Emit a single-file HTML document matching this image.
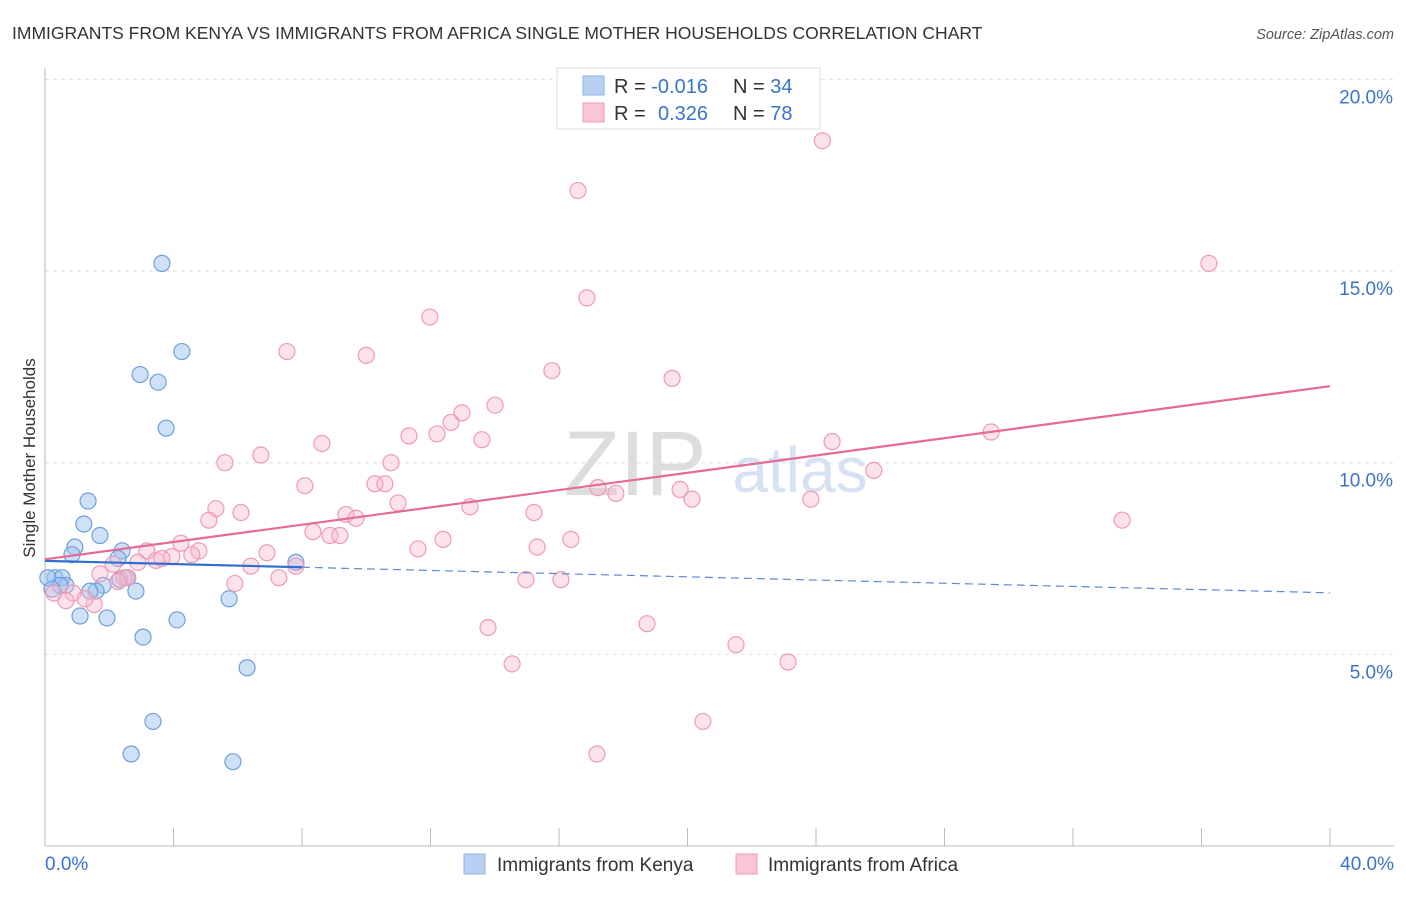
<!DOCTYPE html>
<html><head><meta charset="utf-8">
<style>
body{margin:0;background:#fff;font-family:"Liberation Sans",sans-serif;}
svg text{font-family:"Liberation Sans",sans-serif;}
</style></head>
<body>
<svg width="1406" height="892" viewBox="0 0 1406 892">
<text x="12" y="39" font-size="17.5" fill="#333">IMMIGRANTS FROM KENYA VS IMMIGRANTS FROM AFRICA SINGLE MOTHER HOUSEHOLDS CORRELATION CHART</text>
<text x="1394" y="39" font-size="14.5" fill="#555" font-style="italic" text-anchor="end">Source: ZipAtlas.com</text>
<g id="grid"></g>
<text x="635" y="495" font-size="92" fill="#ddd" font-family="Liberation Serif" text-anchor="middle">ZIP</text>
<text x="800" y="492" font-size="64" fill="#d6e2f3" text-anchor="middle">atlas</text>
<g id="pts"></g>
<g id="lines"></g>
<text x="35" y="458" font-size="17" fill="#333" text-anchor="middle" transform="rotate(-90 35 458)">Single Mother Households</text>
<g>
<rect x="557" y="68" width="263" height="61" fill="#fff" stroke="#ddd"/>
<rect x="583" y="76" width="21" height="19" fill="#b8d1f3" stroke="#8fb3e6"/>
<rect x="583" y="103" width="21" height="19" fill="#fac5d4" stroke="#f19ab4"/>
<text x="614" y="93" font-size="20" fill="#333">R = <tspan fill="#3a74c9">-0.016</tspan></text>
<text x="733" y="93" font-size="20" fill="#333">N = <tspan fill="#3a74c9">34</tspan></text>
<text x="614" y="120" font-size="20" fill="#333">R = <tspan fill="#3a74c9" x="658">0.326</tspan></text>
<text x="733" y="120" font-size="20" fill="#333">N = <tspan fill="#3a74c9">78</tspan></text>
</g>
<g>
<rect x="464" y="854" width="21" height="20" fill="#b8d1f3" stroke="#8fb3e6"/>
<text x="497" y="871" font-size="19" fill="#333">Immigrants from Kenya</text>
<rect x="736" y="854" width="21" height="20" fill="#fac5d4" stroke="#f19ab4"/>
<text x="768" y="871" font-size="19" fill="#333">Immigrants from Africa</text>
</g>
</svg>
<script>
const yTicks=[5,10,15,20];
const xTickLabels=["0.0%","40.0%"];
const kenyaX=[3.64,4.26,2.96,3.52,3.77,1.34,1.21,1.71,0.93,0.84,2.40,2.27,7.81,0.31,0.53,0.09,0.65,0.47,1.81,2.55,1.59,0.22,2.83,1.40,5.73,1.09,1.93,4.11,3.05,6.29,3.36,2.68,5.85,2.33];
const kenyaY=[15.2,12.9,12.3,12.1,10.9,9.0,8.4,8.1,7.8,7.6,7.7,7.5,7.4,7.0,7.0,7.0,6.8,6.8,6.8,7.0,6.65,6.7,6.65,6.65,6.45,6.0,5.95,5.9,5.45,4.65,3.25,2.4,2.2,6.95];
const africaX=[24.2,16.59,16.87,36.23,11.98,7.53,10.0,15.78,19.52,14.01,12.98,12.64,12.2,11.33,13.6,8.62,24.5,29.45,6.72,5.6,10.77,25.8,8.09,10.27,10.58,17.21,17.77,19.77,20.14,23.84,10.99,5.32,6.1,13.23,15.22,9.37,9.68,5.1,8.34,8.87,9.18,33.53,12.39,16.37,15.32,4.23,3.17,4.79,6.91,11.61,4.57,3.95,3.46,2.89,3.64,2.12,6.41,7.81,1.71,2.58,2.46,7.28,2.27,5.91,14.97,16.06,0.87,0.28,0.65,1.53,1.25,13.79,18.74,21.51,23.13,14.54,20.48,17.18];
const africaY=[18.4,17.1,14.3,15.2,13.8,12.9,12.8,12.4,12.2,11.5,11.3,11.05,10.75,10.7,10.6,10.5,10.55,10.8,10.2,10.0,10.0,9.8,9.4,9.45,9.45,9.35,9.2,9.3,9.05,9.05,8.95,8.8,8.7,8.85,8.7,8.65,8.55,8.5,8.2,8.1,8.1,8.5,8.0,8.0,7.8,7.9,7.7,7.7,7.65,7.75,7.6,7.55,7.45,7.4,7.5,7.35,7.3,7.3,7.1,7.0,7.0,7.0,6.9,6.85,6.95,6.95,6.6,6.6,6.4,6.3,6.45,5.7,5.8,5.25,4.8,4.75,3.25,2.4];
const NS="http://www.w3.org/2000/svg";
const X=v=>45+v*32.125, Y=v=>846-v*38.33;
function mk(t,a,p){const e=document.createElementNS(NS,t);for(const k in a)e.setAttribute(k,a[k]);p.appendChild(e);return e;}
const g=document.getElementById('grid');
for(const t of yTicks){
 const l=mk('line',{x1:45,x2:1394,y1:Y(t),y2:Y(t),stroke:'#ddd','stroke-dasharray':'4 4'},g);
 
 
 const tx=mk('text',{x:1393,y:Y(t)+24,'font-size':19,fill:'#3a74c9','text-anchor':'end'},g);
 tx.textContent=t.toFixed(1)+'%';
 
 
}
const ax=mk('line',{x1:45,x2:45,y1:68,y2:846,stroke:'#bbb'},g);


const bx=mk('line',{x1:45,x2:1394,y1:846,y2:846,stroke:'#bbb'},g);


for(let i=0;i<=10;i++){
 const tk=mk('line',{x1:X(i*4),x2:X(i*4),y1:828,y2:846,stroke:'#bbb'},g);
 
 
}
[[0,'start',45],[40,'end',1394]].forEach((d,i)=>{
 const tx=mk('text',{x:d[2],y:870,'font-size':19,fill:'#3a74c9','text-anchor':d[1]},g);
 tx.textContent=xTickLabels[i];
 
 
});
const p=document.getElementById('pts');
kenyaX.forEach((x,i)=>{
 const c=mk('circle',{cx:X(x),cy:Y(kenyaY[i]),r:8,fill:'rgba(160,195,240,0.5)',stroke:'#6f9fdc','stroke-width':1.2},p);
 
 
});
africaX.forEach((x,i)=>{
 const c=mk('circle',{cx:X(x),cy:Y(africaY[i]),r:8,fill:'rgba(248,185,205,0.4)',stroke:'#ef9ab5','stroke-width':1.2},p);
 
 
});
const L=document.getElementById('lines');
function fit(xs,ys){const n=xs.length,mx=xs.reduce((a,b)=>a+b)/n,my=ys.reduce((a,b)=>a+b)/n;let sxy=0,sxx=0;for(let i=0;i<n;i++){sxy+=(xs[i]-mx)*(ys[i]-my);sxx+=(xs[i]-mx)**2;}const b=sxy/sxx;return [my-b*mx,b];}
const [ka,kb]=fit(kenyaX,kenyaY);
const l1=mk('line',{x1:X(0),y1:Y(ka),x2:X(8),y2:Y(ka+kb*8),stroke:'#2f6fd0','stroke-width':2.2},L);


const l2=mk('line',{x1:X(8),y1:Y(ka+kb*8),x2:X(40),y2:Y(ka+kb*40),stroke:'#5b8ad6','stroke-width':1.2,'stroke-dasharray':'8 5'},L);


const [aa,ab]=fit(africaX,africaY);
const l3=mk('line',{x1:X(0),y1:Y(aa),x2:X(40),y2:Y(aa+ab*40),stroke:'#e56a96','stroke-width':2.2},L);


</script>
</body></html>
